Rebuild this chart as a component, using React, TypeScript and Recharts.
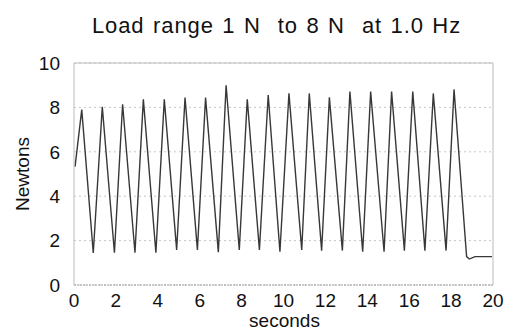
import { CartesianGrid, Line, LineChart, ReferenceLine, XAxis, YAxis } from "recharts";

const seconds = [
  0.05, 0.37, 0.92, 1.35, 1.93, 2.32, 2.91, 3.31, 3.91, 4.31, 4.9, 5.3, 5.89, 6.28, 6.89, 7.26,
  7.89, 8.27, 8.85, 9.27, 9.83, 10.26, 10.87, 11.23, 11.82, 12.19, 12.81, 13.17, 13.78, 14.16,
  14.8, 15.16, 15.77, 16.17, 16.75, 17.15, 17.76, 18.14, 18.74, 18.87, 19.14, 19.95,
];
const newtons = [
  5.33, 7.9, 1.44, 8.03, 1.45, 8.14, 1.45, 8.36, 1.45, 8.36, 1.58, 8.44, 1.58, 8.44, 1.48, 9.0,
  1.58, 8.36, 1.58, 8.56, 1.5, 8.63, 1.58, 8.63, 1.55, 8.45, 1.55, 8.71, 1.5, 8.71, 1.5, 8.71,
  1.55, 8.71, 1.55, 8.63, 1.55, 8.81, 1.28, 1.17, 1.28, 1.28,
];
const xTicks = [0, 2, 4, 6, 8, 10, 12, 14, 16, 18, 20];
const yTicks = [0, 2, 4, 6, 8, 10];

const data = seconds.map((t, i) => ({ t, n: newtons[i] }));
const font = "'Liberation Sans', Arial, sans-serif";

export default function App() {
  return (
    <div style={{ position: "absolute", left: 0, top: 0, width: 505, height: 330, background: "#fff", fontFamily: font }}>
      <div
        style={{
          position: "absolute",
          left: 0,
          top: 13,
          width: 553,
          textAlign: "center",
          fontSize: 22,
          letterSpacing: 0.9,
          wordSpacing: 1.5,
          color: "#111",
          whiteSpace: "pre",
        }}
      >
        {"Load range 1 N  to 8 N  at 1.0 Hz"}
      </div>
      <div
        style={{
          position: "absolute",
          left: 0,
          top: 313,
          width: 569,
          textAlign: "center",
          fontSize: 19,
          lineHeight: "16px",
          color: "#111",
        }}
      >
        seconds
      </div>
      <div
        style={{
          position: "absolute",
          left: 23,
          top: 174,
          transform: "translate(-50%, -50%) rotate(-90deg)",
          fontSize: 19,
          color: "#111",
        }}
      >
        Newtons
      </div>
      <LineChart width={505} height={330} data={data} margin={{ top: 63, right: 12, bottom: 15, left: 0 }}>
        <CartesianGrid vertical={false} stroke="#c8c8c8" strokeDasharray="2 3" />
        <XAxis
          dataKey="t"
          type="number"
          domain={[0, 20]}
          ticks={xTicks}
          height={30}
          tickSize={0}
          tickMargin={9}
          axisLine={{ stroke: "#999", strokeDasharray: "2 1" }}
          tick={{ fontSize: 19, fill: "#111", fontFamily: font }}
          interval={0}
        />
        <YAxis
          type="number"
          domain={[0, 10]}
          ticks={yTicks}
          width={74}
          tickLine={false}
          tickSize={6}
          tickMargin={8}
          axisLine={{ stroke: "#bbb" }}
          tick={{ fontSize: 19, fill: "#111", fontFamily: font }}
        />
        <ReferenceLine y={10} stroke="#bbb" />
        <ReferenceLine x={20} stroke="#bbb" />
        <Line
          type="linear"
          dataKey="n"
          stroke="#383838"
          strokeWidth={1.4}
          dot={false}
          isAnimationActive={false}
        />
      </LineChart>
    </div>
  );
}
